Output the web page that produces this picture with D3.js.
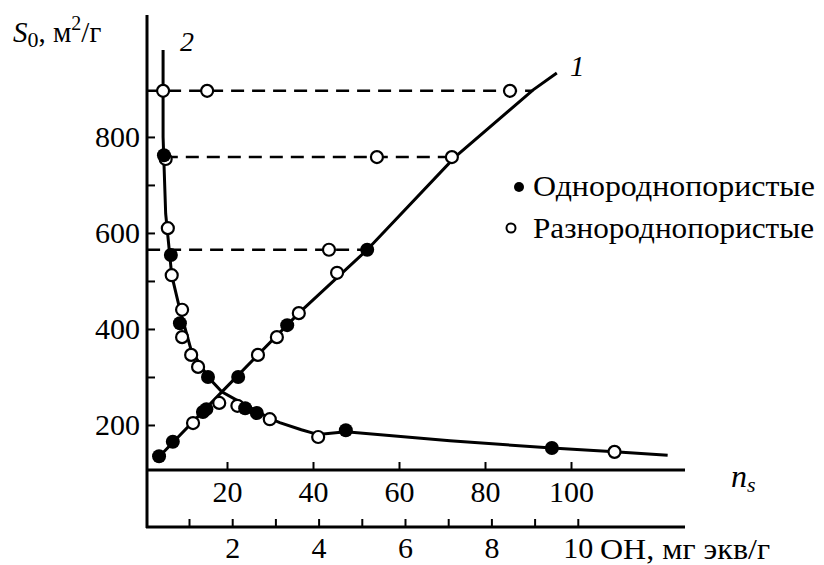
<!DOCTYPE html>
<html><head><meta charset="utf-8">
<script src="https://cdn.jsdelivr.net/npm/d3@7"></script>
<style>body{margin:0;background:#fff;}</style></head>
<body><svg id="c" width="824" height="565"></svg>
<script>
// ---- data ----
const yTicksMajor = [200, 400, 600, 800];
const yTicksMinor = [300, 500, 700];
const nsTicks = [20, 40, 60, 80, 100];
const ohTicks = [1, 2, 3, 4, 5, 6, 7, 8, 9, 10];
const ohLabels = [2, 4, 6, 8, 10];
const legendLabels = ["Однороднопористые", "Разнороднопористые"];

// curve 1: S0 vs n_s (fitted line vertices)
const line1 = [[3.7,129],[18.8,269],[36.7,433],[52.6,565],[73,758],[91.2,898],[96.7,933]];
// curve 1 points [n_s, S0]
const line1Filled = [[4.2,135],[7.4,165],[14.4,227],[15.2,233],[22.6,300],[34.0,408],[52.6,565]];
const line1Open = [[12.1,204],[27.2,346],[31.6,383],[36.7,433],[45.6,517],[72.3,758]];

// curve 2: S0 vs OH (line vertices)
const line2 = [[0.40,981],[0.40,800],[0.46,640],[0.60,512],[0.79,440],[1.05,356],[1.44,300],[1.76,269],[2.3,242],[2.87,214],[3.1,205],[3.6,190],[3.99,180],[4.63,186],[7.04,167],[9.4,152],[10.85,144],[12.08,137]];
const line2Filled = [[0.42,762],[0.58,554],[0.79,412],[1.44,300],[2.30,235],[2.57,225],[4.63,189],[9.4,152]];
const line2Open = [[0.40,896],[0.46,754],[0.51,610],[0.60,512],[0.84,440],[0.84,383],[1.05,346],[1.21,321],[1.70,246],[2.12,240],[2.87,212],[3.99,175],[10.85,144]];

// open circles on dashed lines, x in OH units
const dashOpen = [[1.42,896],[5.35,758],[4.24,565],[8.43,896]];
// dashed reference lines: [S0, fromOH, toNs]
const dashLevels = [[896, 0.03, 91.2],[758, 0.44, 72.6],[565, 0.03, 52.6]];

const FONT = "'Liberation Serif'";

// ---- scales ----
const svg = d3.select("#c");
const y = d3.scaleLinear().domain([-12.5, 1054]).range([527, 15]);
const xNs = d3.scaleLinear().domain([0, 125]).range([141, 678.5]);
const xOh = d3.scaleLinear().domain([0, 12.5]).range([145.8, 685.8]);

const FS = 30;
const axisG = svg.append("g");

function styleAxis(g){
  g.select(".domain").remove();
  g.selectAll("line").attr("stroke-width",2);
  g.selectAll("text").style("font-family", FONT).style("font-size", FS+"px").attr("fill","#000");
}

// y axis
const gy = axisG.append("g").attr("transform","translate(147,0)")
  .call(d3.axisLeft(y).tickValues(yTicksMajor).tickSize(-8).tickSizeOuter(0).tickPadding(7));
styleAxis(gy);
gy.selectAll("text").attr("dy","0.32em");
const gy2 = axisG.append("g").attr("transform","translate(147,0)")
  .call(d3.axisLeft(y).tickValues(yTicksMinor).tickSize(-8).tickFormat(""));
styleAxis(gy2);
axisG.append("line").attr("x1",147).attr("x2",147).attr("y1",15).attr("y2",528).attr("stroke","#000").attr("stroke-width",3);

// top x axis (n_s)
const yTop = 470;
const gx1 = axisG.append("g").attr("transform",`translate(0,${yTop})`)
  .call(d3.axisBottom(xNs).tickValues(nsTicks).tickSize(-8).tickSizeOuter(0).tickPadding(11));
styleAxis(gx1);
axisG.append("line").attr("x1",146).attr("x2",685).attr("y1",yTop).attr("y2",yTop).attr("stroke","#000").attr("stroke-width",3);

// bottom x axis (OH)
const yBot = 527;
const gx2 = axisG.append("g").attr("transform",`translate(0,${yBot})`)
  .call(d3.axisBottom(xOh).tickValues(ohTicks).tickSize(-8).tickSizeOuter(0).tickPadding(10)
    .tickFormat(d => ohLabels.includes(d) ? d : ""));
styleAxis(gx2);
axisG.append("line").attr("x1",146).attr("x2",685).attr("y1",yBot).attr("y2",yBot).attr("stroke","#000").attr("stroke-width",3);

// dashed lines
const dl = svg.append("g");
dashLevels.forEach(([s, fromOh, toNs]) => {
  dl.append("line").attr("x1", xOh(fromOh)).attr("x2", xNs(toNs)).attr("y1", y(s)).attr("y2", y(s))
    .attr("stroke","#000").attr("stroke-width",2.5).attr("stroke-dasharray","13,8");
});

// curves
const lineNs = d3.line().x(d=>xNs(d[0])).y(d=>y(d[1]));
const lineOh = d3.line().x(d=>xOh(d[0])).y(d=>y(d[1]));
svg.append("path").attr("d", lineNs(line1)).attr("fill","none").attr("stroke","#000").attr("stroke-width",3);
svg.append("path").attr("d", lineOh(line2)).attr("fill","none").attr("stroke","#000").attr("stroke-width",3);

// markers
const mk = svg.append("g");
function open(pts, xs){ mk.selectAll(null).data(pts).enter().append("circle")
  .attr("cx",d=>xs(d[0])).attr("cy",d=>y(d[1])).attr("r",6).attr("fill","#fff").attr("stroke","#000").attr("stroke-width",2.2); }
function filled(pts, xs){ mk.selectAll(null).data(pts).enter().append("circle")
  .attr("cx",d=>xs(d[0])).attr("cy",d=>y(d[1])).attr("r",7).attr("fill","#000"); }
open(line1Open, xNs); open(line2Open, xOh); open(dashOpen, xOh);
filled(line1Filled, xNs); filled(line2Filled, xOh);

// texts
function T(x, yy, size){ return svg.append("text").attr("x",x).attr("y",yy)
  .style("font-family",FONT).style("font-size",size+"px").attr("fill","#000"); }
const yl = T(13, 42, 29);
yl.append("tspan").style("font-style","italic").text("S");
yl.append("tspan").attr("dy",5).style("font-size","22px").text("0");
yl.append("tspan").attr("dy",-5).text(", м");
yl.append("tspan").attr("dy",-12).style("font-size","20px").text("2");
yl.append("tspan").attr("dy",12).text("/г");

T(180, 51, 28).style("font-style","italic").text("2");
T(570, 76, 29).style("font-style","italic").text("1");
const ns = T(731, 487, 32).style("font-style","italic");
ns.append("tspan").text("n");
ns.append("tspan").attr("dy",5).style("font-size","22px").text("s");
T(600, 559, 30).attr("textLength",170).attr("lengthAdjust","spacingAndGlyphs").text("OH, мг экв/г");

// legend
const lg = svg.append("g");
lg.append("circle").attr("cx",519).attr("cy",187).attr("r",5).attr("fill","#000");
lg.append("circle").attr("cx",511).attr("cy",228).attr("r",4.5).attr("fill","#fff").attr("stroke","#000").attr("stroke-width",2);
lg.selectAll(null).data(legendLabels).enter().append("text")
  .attr("x",533).attr("y",(d,i)=> i===0 ? 196 : 238)
  .style("font-family",FONT).style("font-size","30px").attr("fill","#000")
  .attr("textLength",(d,i)=> i===0 ? 282 : 281).attr("lengthAdjust","spacingAndGlyphs").text(d=>d);
</script></body></html>
